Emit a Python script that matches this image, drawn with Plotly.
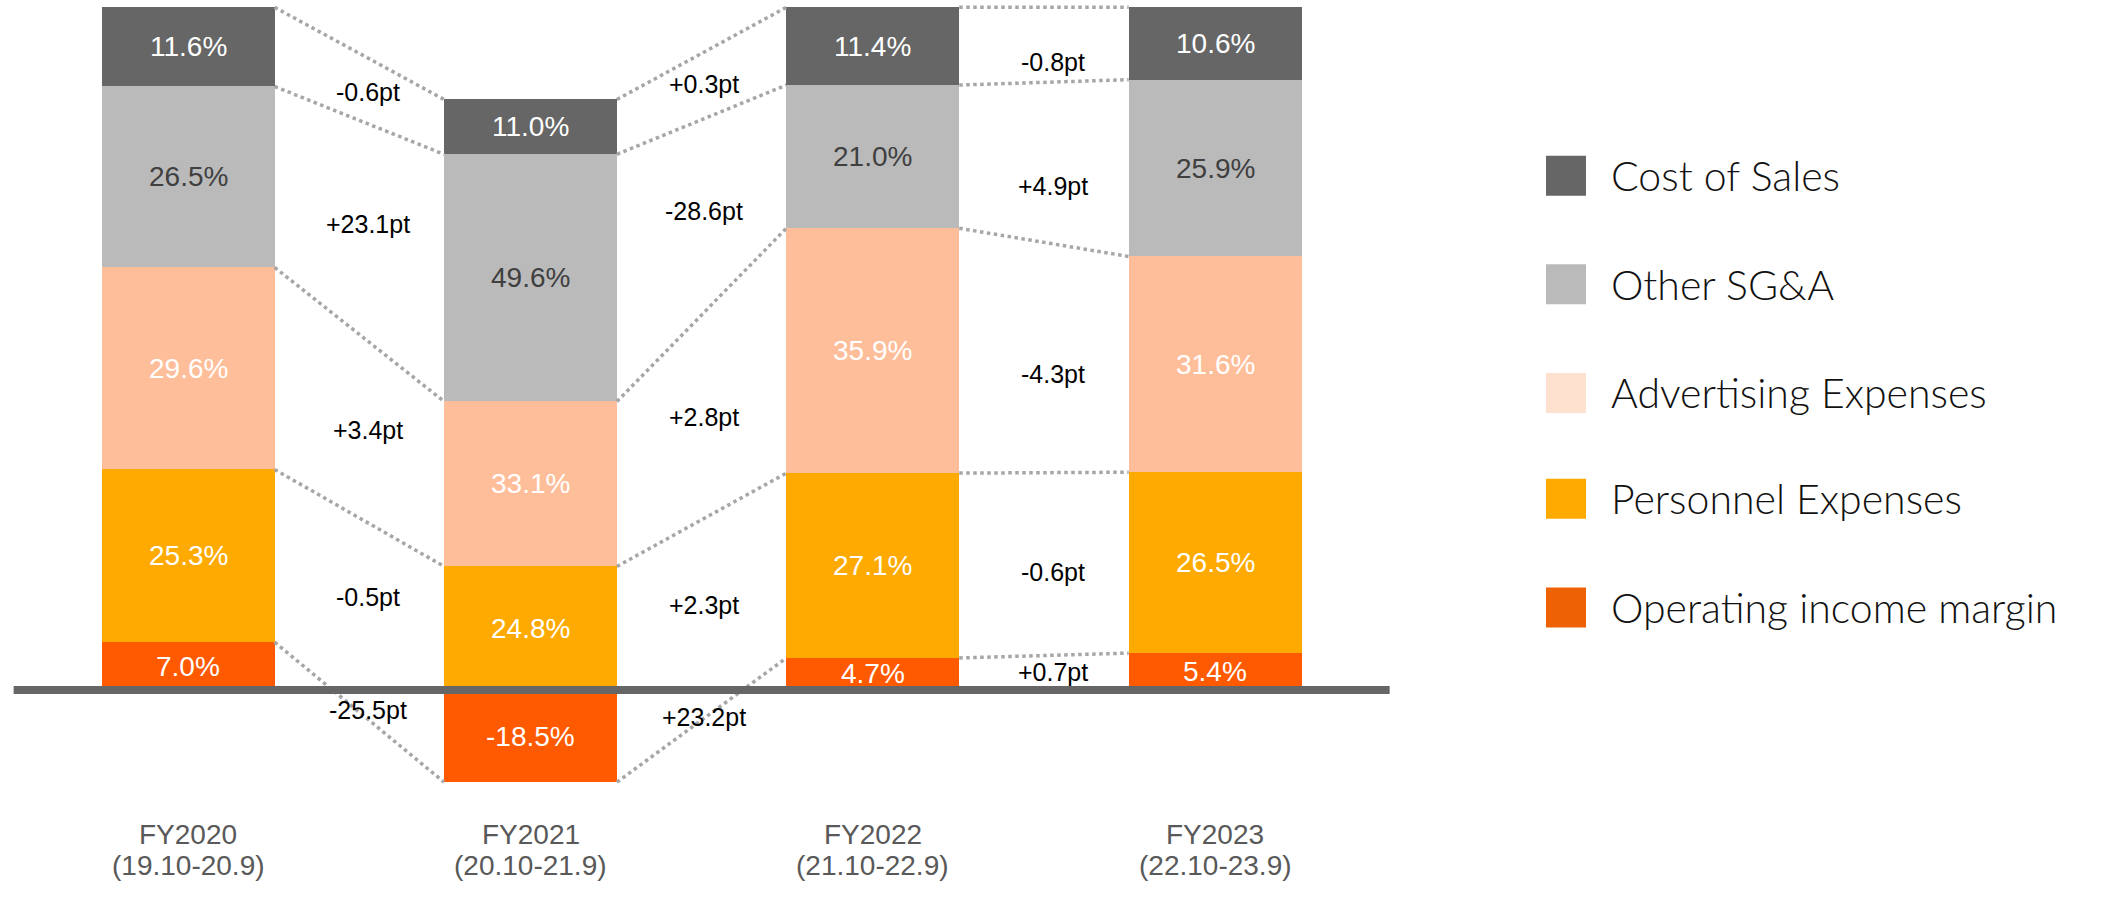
import plotly.graph_objects as go

# ---------------- data ----------------
years = ["FY2020", "FY2021", "FY2022", "FY2023"]
periods = ["(19.10-20.9)", "(20.10-21.9)", "(21.10-22.9)", "(22.10-23.9)"]

cost_of_sales = [11.6, 11.0, 11.4, 10.6]
other_sga = [26.5, 49.6, 21.0, 25.9]
advertising = [29.6, 33.1, 35.9, 31.6]
personnel = [25.3, 24.8, 27.1, 26.5]
op_margin = [7.0, -18.5, 4.7, 5.4]

delta_cost_of_sales = ["-0.6pt", "+0.3pt", "-0.8pt"]
delta_other_sga = ["+23.1pt", "-28.6pt", "+4.9pt"]
delta_advertising = ["+3.4pt", "+2.8pt", "-4.3pt"]
delta_personnel = ["-0.5pt", "+2.3pt", "-0.6pt"]
delta_op_margin = ["-25.5pt", "+23.2pt", "+0.7pt"]

series_names = ["Operating income margin", "Personnel Expenses", "Advertising Expenses",
                "Other SG&A", "Cost of Sales"]
series_values = [op_margin, personnel, advertising, other_sga, cost_of_sales]
series_deltas = [delta_op_margin, delta_personnel, delta_advertising,
                 delta_other_sga, delta_cost_of_sales]

# ---------------- style ----------------
bar_colors = ["#ff5a00", "#ffaa00", "#ffbe9a", "#bababa", "#666666"]
legend_colors = ["#ee6104", "#ffaa00", "#fde0cd", "#bababa", "#666666"]
label_colors = ["#ffffff", "#ffffff", "#ffffff", "#404040", "#ffffff"]
delta_yshift = [[-9, -12, 1], [-5, -8, -8], [-4, 0, -16], [3, 6, -24], [-5, 3, -17]]
delta_xshift = [9, 2, 9]
BAR_W = 0.505
W, H = 2103, 901
VAL_FONT = "Liberation Sans, Arial, sans-serif"

n = len(years)
xs = list(range(n))

# normalise each column so its full extent (positive + negative) spans 100
totals = [sum(abs(s[i]) for s in series_values) for i in range(n)]
norm = [[s[i] * 100.0 / totals[i] for i in range(n)] for s in series_values]

# stacking geometry (relative mode)
centers = [[0.0] * n for _ in series_values]
ends = [[0.0] * n for _ in series_values]
for i in range(n):
    pos, neg = 0.0, 0.0
    for k, vals in enumerate(norm):
        v = vals[i]
        if v >= 0:
            base = pos
            pos += v
            ends[k][i] = pos
        else:
            neg += v
            base = neg
            v = -v
            ends[k][i] = neg
        centers[k][i] = base + v / 2.0

fig = go.Figure()

for k, name in enumerate(series_names):
    fig.add_trace(go.Bar(
        x=xs, y=norm[k], name=name, width=BAR_W,
        marker=dict(color=bar_colors[k], line=dict(width=0)),
        showlegend=False, hoverinfo="skip",
    ))

# dotted connectors between adjacent columns
for k in range(len(series_names)):
    for i in range(n - 1):
        fig.add_trace(go.Scatter(
            x=[xs[i] + BAR_W / 2, xs[i + 1] - BAR_W / 2],
            y=[ends[k][i], ends[k][i + 1]],
            mode="lines",
            line=dict(color="#a6a6a6", width=3.5, dash="dot"),
            showlegend=False, hoverinfo="skip",
        ))

annotations = []
# value labels
for k, vals in enumerate(series_values):
    for i in range(n):
        annotations.append(dict(
            x=xs[i], y=centers[k][i], xref="x", yref="y",
            text=f"{vals[i]:.1f}%", showarrow=False,
            font=dict(family=VAL_FONT, size=28, color=label_colors[k]),
        ))

# delta labels
for k, deltas in enumerate(series_deltas):
    for i in range(n - 1):
        annotations.append(dict(
            x=(xs[i] + xs[i + 1]) / 2.0,
            y=(centers[k][i] + centers[k][i + 1]) / 2.0,
            xref="x", yref="y", text=deltas[i], showarrow=False,
            xshift=delta_xshift[i], yshift=delta_yshift[k][i],
            font=dict(family=VAL_FONT, size=25, color="#000000"),
        ))

# category labels
for i in range(n):
    annotations.append(dict(x=xs[i], y=1 - 851.6 / H, xref="x", yref="paper",
                            text=years[i], showarrow=False,
                            font=dict(family=VAL_FONT, size=28, color="#595959")))
    annotations.append(dict(x=xs[i], y=1 - 883.0 / H, xref="x", yref="paper",
                            text=periods[i], showarrow=False,
                            font=dict(family=VAL_FONT, size=28, color="#595959")))

shapes = [dict(type="line", xref="x", yref="y", x0=-0.51, x1=n - 1 + 0.51, y0=0, y1=0,
               line=dict(color="#666666", width=8))]

# legend (top to bottom: reverse stacking order)
legend_y = [175.7, 284.3, 392.9, 498.8, 607.5]
for j, k in enumerate(reversed(range(len(series_names)))):
    yc = legend_y[j]
    shapes.append(dict(type="rect", xref="paper", yref="paper",
                       x0=1546 / W, x1=1586 / W,
                       y0=1 - (yc + 20) / H, y1=1 - (yc - 20) / H,
                       fillcolor=legend_colors[k], line=dict(width=0)))
    annotations.append(dict(x=1609 / W, y=1 - yc / H, xref="paper", yref="paper",
                            xanchor="left", yanchor="middle", text=series_names[k],
                            showarrow=False,
                            font=dict(family="Lato, sans-serif", size=41, color="#111111",
                                      weight=300)))

px_per_unit = 6.827
zero_px = 690.0
y_top = (zero_px - 0) / px_per_unit
y_bot = -(H - zero_px) / px_per_unit
x0_px, step_px = 188.2, 342.3

fig.update_layout(
    width=W, height=H,
    margin=dict(l=0, r=0, t=0, b=0),
    paper_bgcolor="white", plot_bgcolor="white",
    barmode="relative", bargap=0,
    xaxis=dict(visible=False, range=[-x0_px / step_px, (W - x0_px) / step_px], fixedrange=True),
    yaxis=dict(visible=False, range=[y_bot, y_top], fixedrange=True),
    annotations=annotations, shapes=shapes,
    showlegend=False,
)

fig.write_html("out.html", config={"displayModeBar": False},
               post_script="document.body.style.margin='0';document.body.style.overflow='hidden';")
